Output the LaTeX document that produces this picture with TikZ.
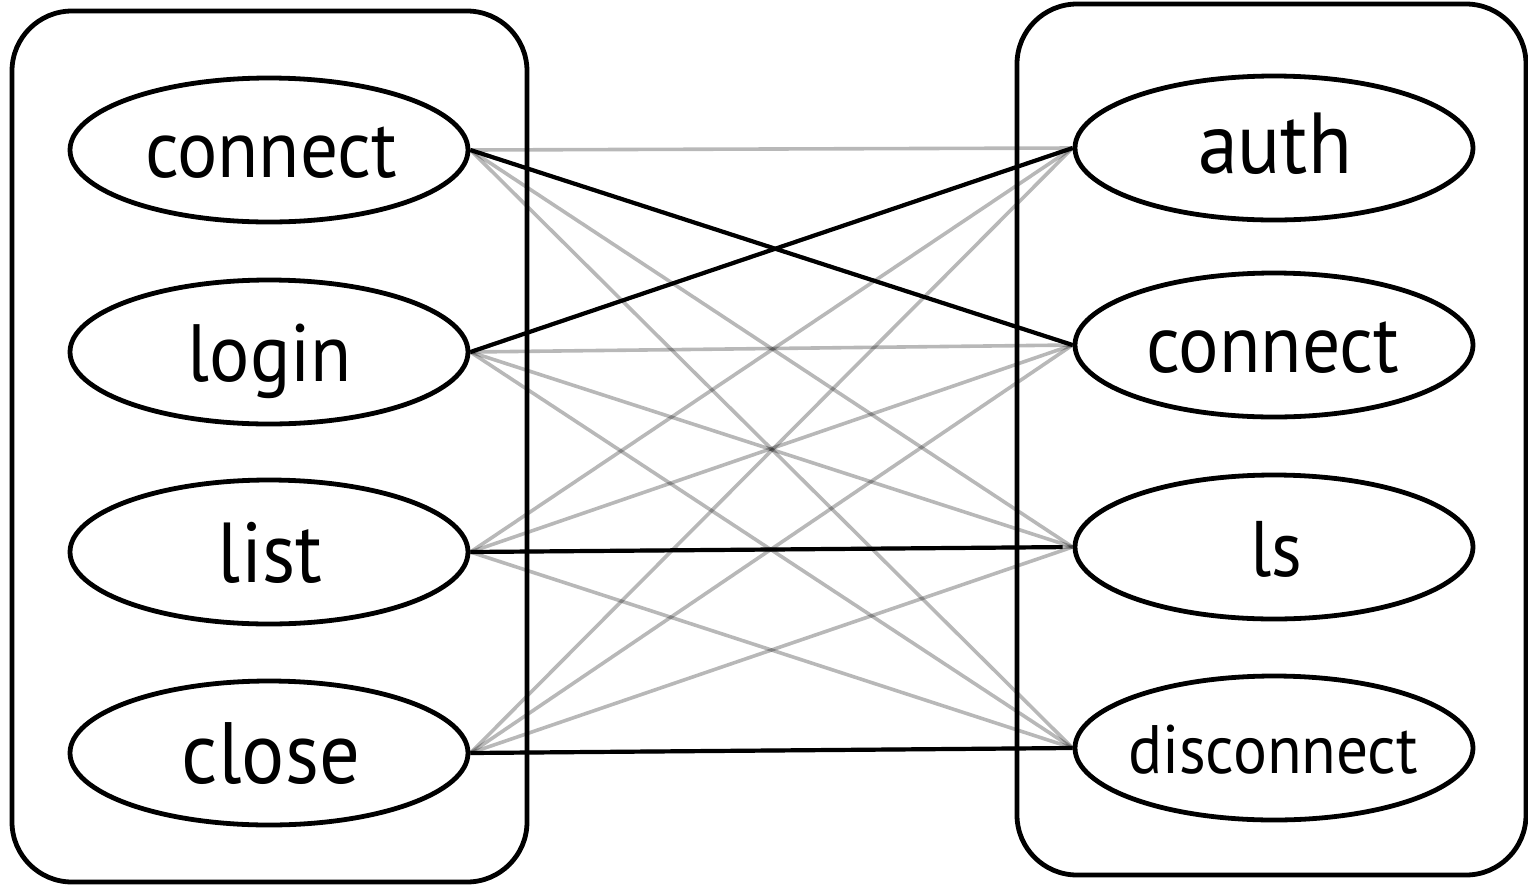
\documentclass[tikz,border=0pt]{standalone}
\usepackage{fontspec}
\setmainfont{PT Sans}
\usetikzlibrary{shapes.geometric}
\tikzset{
  ell/.style={ellipse, draw, line width=2.4pt, fill=white, minimum width=199pt, minimum height=72pt, inner sep=0pt},
  grp/.style={draw, line width=2.4pt, rounded corners=30pt, inner sep=0pt},
  faint/.style={draw=black, opacity=0.28, line width=1.8pt},
  strong/.style={draw=black, line width=2.1pt},
  lbl/.style={anchor=base, inner sep=0pt, font=\fontsize{40}{48}\selectfont},
}
\newcommand\txt[2]{\scalebox{1}[1.08]{\resizebox{#1pt}{!}{#2}}}
\begin{document}
\begin{tikzpicture}[x=0.5pt, y=-0.5pt]
\useasboundingbox (0,0) rectangle (1528,885);
% group boxes
\node[grp, minimum width=257.5pt, minimum height=435.5pt] (leftgroup) at (269.5,446.5) {};
\node[grp, minimum width=254.5pt, minimum height=435.5pt] (rightgroup) at (1271.5,439.5) {};
% ellipses
\node[ell] (L1) at (269,150) {};
\node[ell] (L2) at (269,352) {};
\node[ell] (L3) at (269,552) {};
\node[ell] (L4) at (269,753) {};
\node[ell] (R1) at (1274,148) {};
\node[ell] (R2) at (1274,345) {};
\node[ell] (R3) at (1274,547) {};
\node[ell] (R4) at (1274,748) {};
% connectors
\foreach \a in {1,2,3,4}{
  \foreach \b in {1,2,3,4}{
    \draw[faint] (L\a.east) -- (R\b.west);
  }
}
\draw[strong] (L1.east) -- (R2.west);
\draw[strong] (L2.east) -- (R1.west);
\draw[strong, shorten >=5pt] (L3.east) -- (R3.west);
\draw[strong] (L4.east) -- (R4.west);
% labels
\node[lbl] (t1) at (271,177) {\txt{126}{connect}};
\node[lbl] (t2) at (270,381) {\txt{82}{login}};
\node[lbl] (t3) at (270,582) {\txt{52}{list}};
\node[lbl] (t4) at (271,783) {\txt{89}{close}};
\node[lbl] (t5) at (1275,173) {\txt{77}{auth}};
\node[lbl] (t6) at (1273,372) {\txt{126.5}{connect}};
\node[lbl] (t7) at (1276,576) {\txt{26}{ls}};
\node[lbl] (t8) at (1273,773) {\txt{145}{disconnect}};
\end{tikzpicture}
\end{document}
